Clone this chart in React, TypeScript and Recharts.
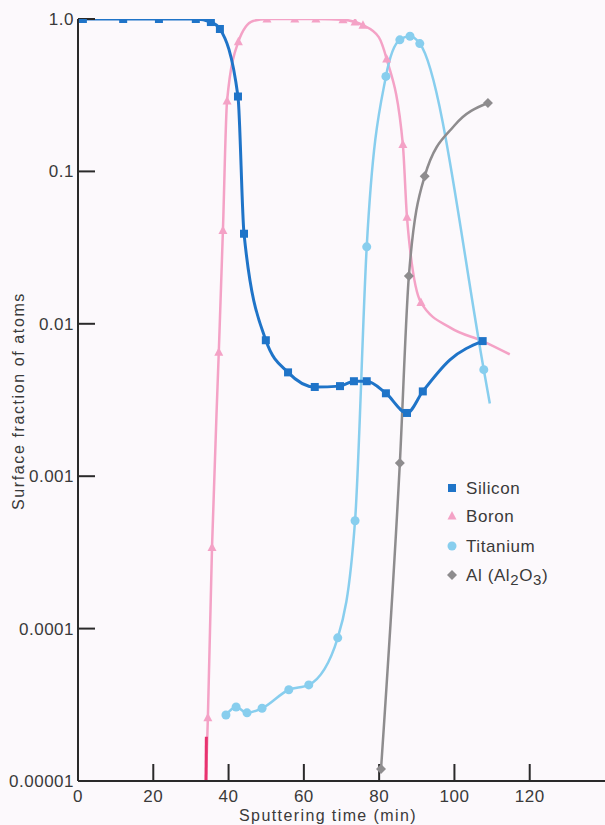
import { LineChart, Line, XAxis, YAxis, Legend } from 'recharts';

// [time (min), surface fraction, marker shown]
const siliconPoints: [number, number, number][] = [
  [0, 1.0, 0], [1.3, 1.0, 1], [12, 1.0, 1], [21.5, 1.0, 1], [31.3, 1.0, 1],
  [35.3, 0.955, 1], [37.7, 0.86, 1], [42.5, 0.31, 1], [44.1, 0.039, 1],
  [49.9, 0.0078, 1], [55.8, 0.0048, 1], [62.9, 0.00385, 1], [69.6, 0.0039, 1],
  [73.3, 0.0042, 1], [76.7, 0.0042, 1], [81.8, 0.0035, 1], [87.4, 0.0026, 1],
  [91.6, 0.0036, 1], [98.8, 0.0058, 0], [107.5, 0.0077, 1],
];

const boronPoints: [number, number, number][] = [
  [34.0, 0.00001, 0], [34.5, 0.000026, 1], [35.6, 0.00034, 1], [37.4, 0.0065, 1],
  [38.5, 0.041, 1], [39.6, 0.29, 1], [42.6, 0.71, 1], [46.5, 0.97, 0],
  [50.2, 1.0, 1], [57.6, 1.0, 1], [63.2, 1.0, 1], [70.4, 0.99, 1],
  [73.6, 0.955, 1], [75.7, 0.91, 1], [79.9, 0.76, 0], [82.0, 0.546, 1],
  [86.3, 0.15, 1], [87.4, 0.05, 1], [91.1, 0.0138, 1], [99, 0.0094, 0],
  [107.5, 0.0077, 0], [114.7, 0.0063, 0],
];

// darker onset of the boron trace at the bottom axis
const boronOnset: [number, number, number][] = [
  [34.0, 0.00001, 0], [34.1, 0.0000195, 0],
];

const titaniumPoints: [number, number, number][] = [
  [39.3, 0.0000271, 1], [42.0, 0.0000306, 1], [44.9, 0.000028, 1], [48.9, 0.00003, 1],
  [56.0, 0.0000397, 1], [61.3, 0.0000427, 1], [69.0, 0.000087, 1], [73.6, 0.00051, 1],
  [76.7, 0.032, 1], [81.8, 0.42, 1], [85.5, 0.73, 1], [88.2, 0.77, 1],
  [90.8, 0.69, 1], [107.8, 0.005, 1], [109.4, 0.003, 0],
];

const aluminumPoints: [number, number, number][] = [
  [80.5, 0.000012, 1], [85.5, 0.00122, 1], [87.9, 0.0206, 1], [92.1, 0.093, 1],
  [100, 0.2, 0], [108.9, 0.281, 1],
];

const xTicks = [0, 20, 40, 60, 80, 100, 120];
const yTicks = [1, 0.1, 0.01, 0.001, 0.0001, 0.00001];
const yTickLabels = ['1.0', '0.1', '0.01', '0.001', '0.0001', '0.00001'];

const seriesNames = ['Silicon', 'Boron', 'Titanium', 'Al (Al2O3)'];

const COLORS = {
  silicon: '#1f74c8',
  boron: '#f4a2c6',
  onset: '#e8336f',
  titanium: '#88ceee',
  aluminum: '#8e8c8e',
};

const INK = '#3a3a3a';
const FONT = '"Liberation Sans", Arial, sans-serif';

const toRows = (pts: [number, number, number][]) =>
  pts.map(([t, f, m]) => ({ t, f, m }));

type Shape = 'square' | 'triangle' | 'circle' | 'diamond';

function Marker({ shape, x, y, color }: { shape: Shape; x: number; y: number; color: string }) {
  if (shape === 'square') return <rect x={x - 4} y={y - 4} width={8} height={8} fill={color} />;
  if (shape === 'triangle')
    return <polygon points={`${x},${y - 5} ${x + 4.5},${y + 3.5} ${x - 4.5},${y + 3.5}`} fill={color} />;
  if (shape === 'circle') return <circle cx={x} cy={y} r={4.5} fill={color} />;
  return <polygon points={`${x},${y - 5} ${x + 5},${y} ${x},${y + 5} ${x - 5},${y}`} fill={color} />;
}

const dotFor = (shape: Shape, color: string) => (props: any) => {
  const { cx, cy, payload, index } = props;
  if (!payload || !payload.m || cx == null || cy == null) return <g key={`d${index}`} />;
  return (
    <g key={`d${index}`}>
      <Marker shape={shape} x={cx} y={cy} color={color} />
    </g>
  );
};

const legendShapes: Shape[] = ['square', 'triangle', 'circle', 'diamond'];
const legendColors = [COLORS.silicon, COLORS.boron, COLORS.titanium, COLORS.aluminum];

function LegendBox() {
  const rowY = [12, 40, 70, 99];
  return (
    <svg width={160} height={115} style={{ fontFamily: FONT }}>
      {seriesNames.map((name, i) => (
        <g key={name}>
          <Marker shape={legendShapes[i]} x={12} y={rowY[i]} color={legendColors[i]} />
          {name === 'Al (Al2O3)' ? (
            <text x={26} y={rowY[i] + 6} fontSize={17} fill={INK} letterSpacing={0.6}>
              Al (Al
              <tspan dy={4} fontSize={15}>2</tspan>
              <tspan dy={-4}>O</tspan>
              <tspan dy={4} fontSize={15}>3</tspan>
              <tspan dy={-4}>)</tspan>
            </text>
          ) : (
            <text x={26} y={rowY[i] + 6} fontSize={17} fill={INK} letterSpacing={0.6}>
              {name}
            </text>
          )}
        </g>
      ))}
    </svg>
  );
}

export default function App() {
  return (
    <div
      style={{
        position: 'absolute',
        left: 0,
        top: 0,
        width: 605,
        height: 825,
        overflow: 'hidden',
        background: '#fcf9fc',
      }}
    >
      <LineChart
        width={607}
        height={825}
        margin={{ top: 19, right: 2, bottom: 0, left: 8 }}
        style={{ fontFamily: FONT }}
      >
        <XAxis
          dataKey="t"
          type="number"
          domain={[0, 140]}
          ticks={xTicks}
          allowDataOverflow
          height={44}
          stroke="#2a2a2a"
          axisLine={{ strokeWidth: 2 }}
          tickLine={{ strokeWidth: 2 }}
          tickSize={-17}
          tickMargin={26}
          tick={{ fill: INK, fontSize: 17, letterSpacing: 0.5 }}
          label={{
            content: () => (
              <text x={328} y={821} textAnchor="middle" fontSize={16} fill={INK} letterSpacing={1.4}>
                Sputtering time (min)
              </text>
            ),
          }}
        />
        <XAxis
          xAxisId="top"
          orientation="top"
          dataKey="t"
          type="number"
          domain={[0, 140]}
          ticks={xTicks.slice(1)}
          allowDataOverflow
          height={0}
          stroke="#2a2a2a"
          axisLine={{ strokeWidth: 2 }}
          tickLine={{ strokeWidth: 2 }}
          tickSize={-19}
          tickFormatter={() => ''}
        />
        <YAxis
          type="number"
          scale="log"
          domain={[0.00001, 1]}
          ticks={yTicks}
          allowDataOverflow
          width={70}
          stroke="#2a2a2a"
          axisLine={{ strokeWidth: 2 }}
          tickLine={{ strokeWidth: 2 }}
          tickSize={-17}
          tickMargin={21}
          tick={{ fill: INK, fontSize: 17, letterSpacing: 0.5 }}
          tickFormatter={(v: number) => yTickLabels[yTicks.indexOf(v)] ?? ''}
          label={{
            content: () => (
              <text
                x={24}
                y={401}
                transform="rotate(-90 24 401)"
                textAnchor="middle"
                fontSize={16}
                fill={INK}
                letterSpacing={1.6}
              >
                Surface fraction of atoms
              </text>
            ),
          }}
        />
        <YAxis
          yAxisId="right"
          orientation="right"
          type="number"
          scale="log"
          domain={[0.00001, 1]}
          ticks={yTicks.slice(1, 5)}
          allowDataOverflow
          width={0}
          axisLine={false}
          stroke="#2a2a2a"
          tickLine={{ strokeWidth: 2 }}
          tickSize={-15}
          tickFormatter={() => ''}
        />
        <Legend
          layout="vertical"
          align="center"
          verticalAlign="middle"
          wrapperStyle={{ position: 'absolute', left: 440, top: 476, width: 160 }}
          content={() => <LegendBox />}
        />
        <Line
          data={toRows(boronPoints)}
          dataKey="f"
          type="monotone"
          stroke={COLORS.boron}
          strokeWidth={2.5}
          dot={dotFor('triangle', COLORS.boron)}
          activeDot={false}
          isAnimationActive={false}
        />
        <Line
          data={toRows(boronOnset)}
          dataKey="f"
          type="linear"
          stroke={COLORS.onset}
          strokeWidth={3}
          dot={false}
          activeDot={false}
          legendType="none"
          isAnimationActive={false}
        />
        <Line
          data={toRows(titaniumPoints)}
          dataKey="f"
          type="monotone"
          stroke={COLORS.titanium}
          strokeWidth={2.5}
          dot={dotFor('circle', COLORS.titanium)}
          activeDot={false}
          isAnimationActive={false}
        />
        <Line
          data={toRows(aluminumPoints)}
          dataKey="f"
          type="monotone"
          stroke={COLORS.aluminum}
          strokeWidth={2.5}
          dot={dotFor('diamond', COLORS.aluminum)}
          activeDot={false}
          isAnimationActive={false}
        />
        <Line
          data={toRows(siliconPoints)}
          dataKey="f"
          type="monotone"
          stroke={COLORS.silicon}
          strokeWidth={3}
          dot={dotFor('square', COLORS.silicon)}
          activeDot={false}
          isAnimationActive={false}
        />
      </LineChart>
    </div>
  );
}
